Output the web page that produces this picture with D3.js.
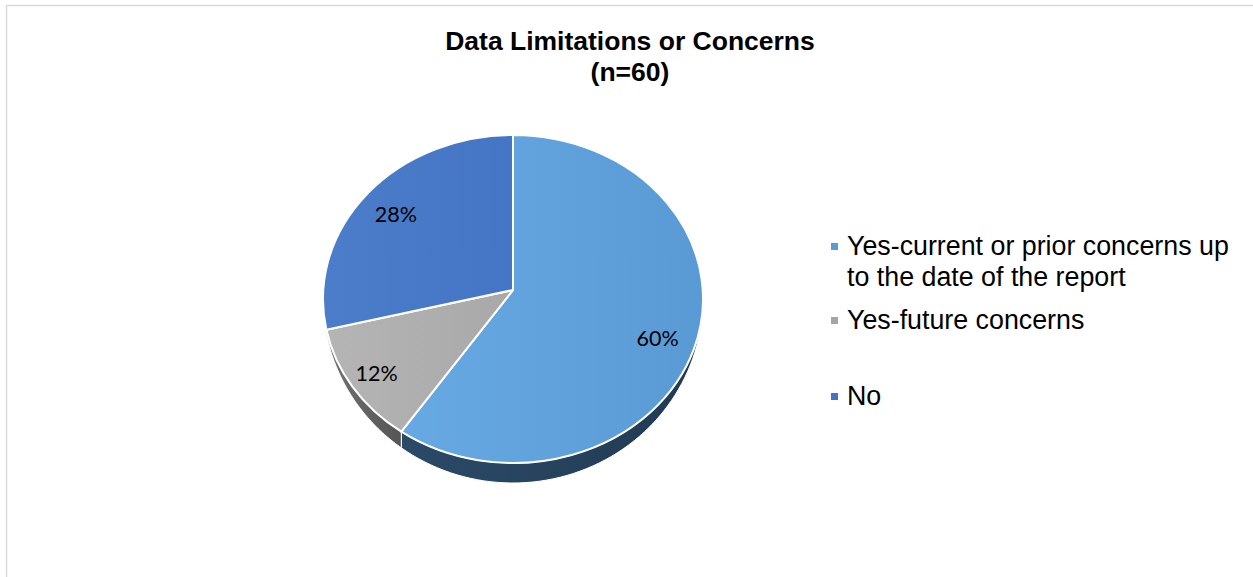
<!DOCTYPE html>
<html>
<head>
<meta charset="utf-8">
<script src="https://cdn.jsdelivr.net/npm/d3@7"></script>
<style>
  html, body { margin: 0; padding: 0; background: #fff; }
  svg { display: block; }
</style>
</head>
<body>
<svg id="chart" width="1253" height="577"></svg>
<script>
// ---- Data ----
const categories = [
  "Yes-current or prior concerns up to the date of the report",
  "Yes-future concerns",
  "No"
];
const values = [60, 12, 28];
const labels = ["60%", "12%", "28%"];
const titleLines = ["Data Limitations or Concerns", "(n=60)"];

// ---- Layout / style ----
const W = 1253, H = 577;
const cx = 513, cy = 299, rx = 190, ry = 164;
const apex = [513, 290];
const depthMax = 20;
const topColors = [["#67a9e3", "#5a9ad4"], ["#b5b5b5", "#a8a8a8"], ["#4b7dca", "#4575c5"]];
const sideColors = [["#2b4a68", "#223a52"], ["#737373", "#555555"], ["#2a4275", "#22365f"]];
const labelFrac = [0.8, 0.85, 0.8];

const svg = d3.select("#chart");
const defs = svg.append("defs");

topColors.forEach((c, i) => {
  const g = defs.append("linearGradient").attr("id", "top" + i)
    .attr("x1", "0%").attr("y1", "0%").attr("x2", "100%").attr("y2", "0%");
  g.append("stop").attr("offset", "0%").attr("stop-color", c[0]);
  g.append("stop").attr("offset", "100%").attr("stop-color", c[1]);
});
sideColors.forEach((c, i) => {
  const g = defs.append("linearGradient").attr("id", "side" + i)
    .attr("x1", "0%").attr("y1", "0%").attr("x2", "100%").attr("y2", "0%");
  g.append("stop").attr("offset", "0%").attr("stop-color", c[0]);
  g.append("stop").attr("offset", "100%").attr("stop-color", c[1]);
});

// frame
svg.append("rect").attr("x", 6.5).attr("y", 5.5).attr("width", 1300).attr("height", 650)
  .attr("fill", "#fff").attr("stroke", "#d9d9d9").attr("stroke-width", 1.5);

// title
svg.append("text").attr("x", 630).attr("y", 50)
  .attr("text-anchor", "middle")
  .style("font-family", "'Liberation Sans', Arial, sans-serif")
  .style("font-weight", "bold").style("font-size", "26.5px").attr("fill", "#000")
  .selectAll("tspan").data(titleLines).join("tspan")
  .attr("x", 630).attr("dy", (d, i) => i === 0 ? 0 : 31).text(d => d);

// pie
const pie = d3.pie().sort(null).startAngle(0).endAngle(2 * Math.PI);
const arcs = pie(values);

const pt = (a, d = 0) => [cx + rx * Math.sin(a), cy - ry * Math.cos(a) + d];
const depth = a => depthMax * Math.max(0, -Math.cos(a));
const line = d3.line();

// side walls
const gSide = svg.append("g");
arcs.forEach((s, i) => {
  const lo = Math.max(s.startAngle, Math.PI / 2);
  const hi = Math.min(s.endAngle, 3 * Math.PI / 2);
  if (hi <= lo) return;
  const n = 60;
  const angs = d3.range(n + 1).map(k => lo + (hi - lo) * k / n);
  const ptsTop = angs.map(a => pt(a));
  const ptsBot = angs.slice().reverse().map(a => pt(a, depth(a)));
  gSide.append("path")
    .attr("d", line(ptsTop.concat(ptsBot)) + "Z")
    .attr("fill", `url(#side${i})`)
    .attr("stroke", "#fff").attr("stroke-width", 1).attr("stroke-linejoin", "round");
});

// top faces
const gTop = svg.append("g");
arcs.forEach((s, i) => {
  const p0 = pt(s.startAngle), p1 = pt(s.endAngle);
  const large = (s.endAngle - s.startAngle) > Math.PI ? 1 : 0;
  const d = `M${apex[0]},${apex[1]}L${p0[0]},${p0[1]}A${rx},${ry} 0 ${large} 1 ${p1[0]},${p1[1]}Z`;
  gTop.append("path").attr("d", d)
    .attr("fill", `url(#top${i})`)
    .attr("stroke", "#fff").attr("stroke-width", 2).attr("stroke-linejoin", "round");
});

// data labels
arcs.forEach((s, i) => {
  const mid = (s.startAngle + s.endAngle) / 2;
  const e = pt(mid);
  const f = labelFrac[i];
  const x = cx + (e[0] - cx) * f;
  const y = 295 + (e[1] - 295) * f;
  svg.append("text").attr("x", x).attr("y", y + 7.5)
    .attr("text-anchor", "middle")
    .style("font-family", "Lato, 'Open Sans', sans-serif")
    .style("font-size", "21.5px").attr("fill", "#000")
    .text(labels[i]);
});

// legend
const legendColors = ["#5b9bd5", "#a5a5a5", "#4472c4"];
const legendLines = [
  ["Yes-current or prior concerns up", "to the date of the report"],
  ["Yes-future concerns"],
  ["No"]
];
const legendBase = [255, 329, 405];
const lg = svg.append("g");
categories.forEach((c, i) => {
  lg.append("rect").attr("x", 831).attr("y", legendBase[i] - 12).attr("width", 7).attr("height", 7)
    .attr("fill", legendColors[i]);
  lg.append("text").attr("x", 847).attr("y", legendBase[i])
    .style("font-family", "'Liberation Sans', Arial, sans-serif")
    .style("font-size", "26.8px").attr("fill", "#000")
    .selectAll("tspan").data(legendLines[i]).join("tspan")
    .attr("x", 847).attr("dy", (d, k) => k === 0 ? 0 : 31).text(d => d);
});
</script>
</body>
</html>
